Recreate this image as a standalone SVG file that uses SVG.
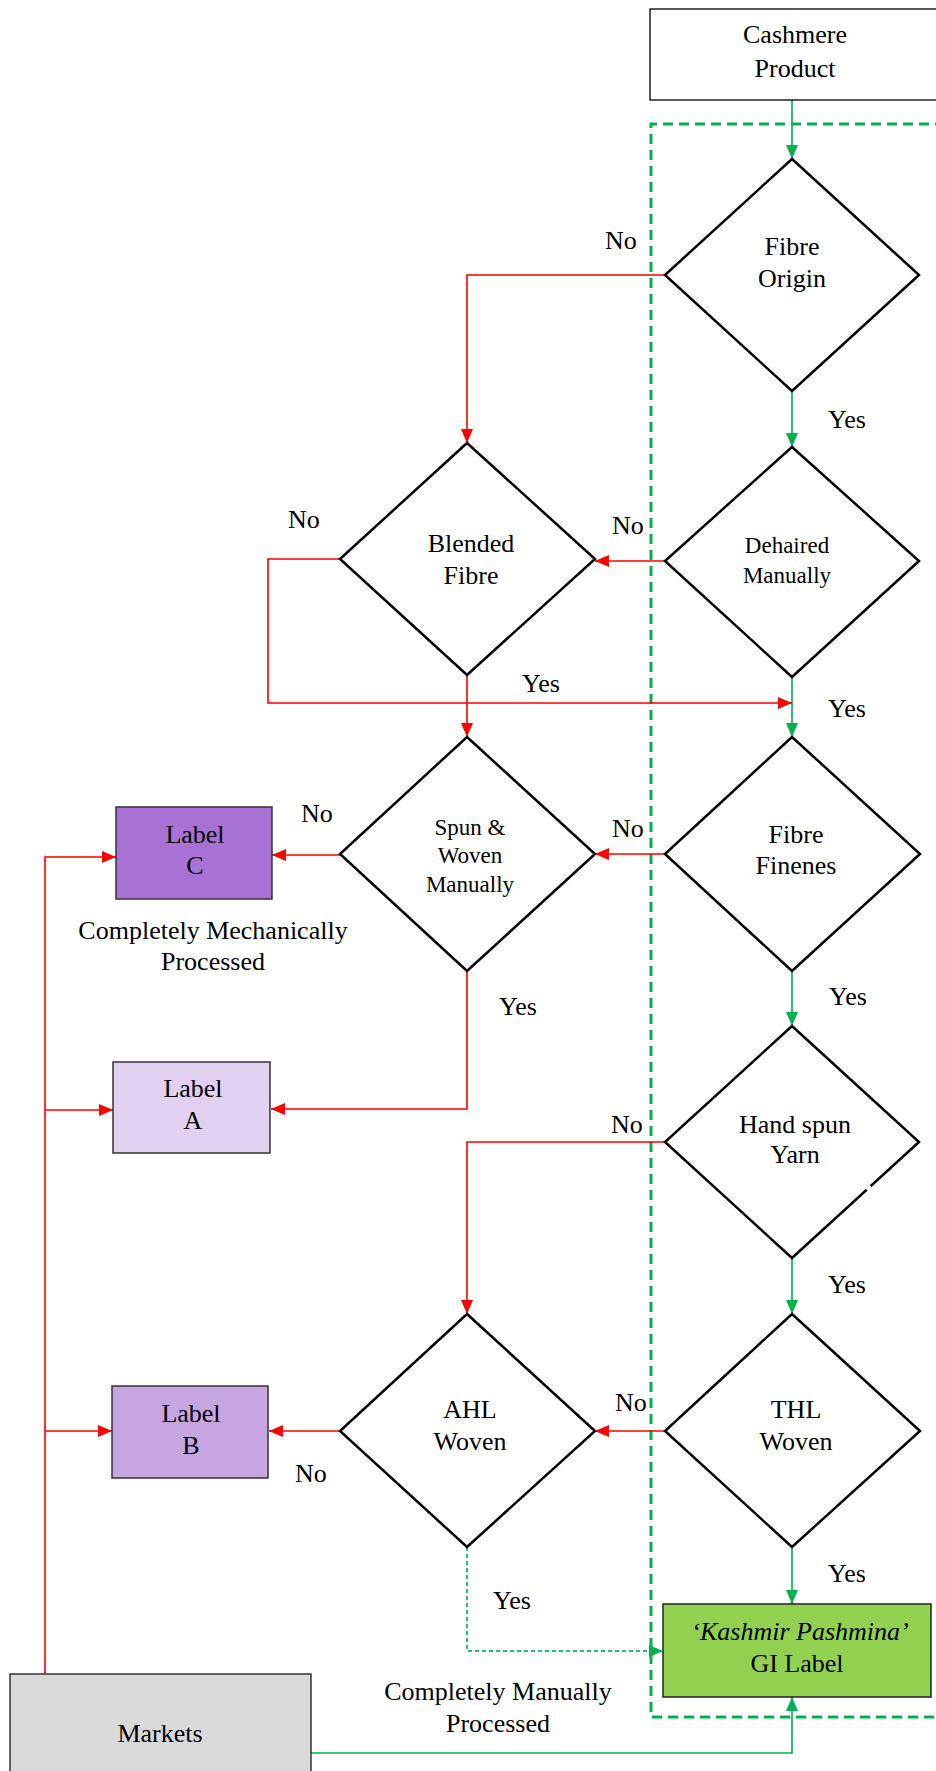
<svg xmlns="http://www.w3.org/2000/svg" width="936" height="1771" viewBox="0 0 936 1771">
  <style>
    text { font-family: "Liberation Serif", "Times New Roman", serif; font-size: 26px; fill: #000; }
    .c { text-anchor: middle; }
    .sm { font-size: 23px; }
    .it { font-style: italic; }
    .dia { fill: #fff; stroke: #000; stroke-width: 2.5; }
    .box { stroke: #333; stroke-width: 1.5; }
    .red { fill: none; stroke: #FF0000; stroke-width: 1.6; }
    .grn { fill: none; stroke: #00B050; stroke-width: 1.6; }
    .grnd { fill: none; stroke: #2DBE6C; stroke-width: 2; stroke-dasharray: 4 3; }
    .zone { fill: none; stroke: #00B050; stroke-width: 3; stroke-dasharray: 10 6; }
  </style>
  <defs>
    <marker id="ar" markerUnits="userSpaceOnUse" markerWidth="14" markerHeight="12" refX="14" refY="6" orient="auto">
      <path d="M0,0 L14,6 L0,12 z" fill="#FF0000"/>
    </marker>
    <marker id="ag" markerUnits="userSpaceOnUse" markerWidth="14" markerHeight="12" refX="14" refY="6" orient="auto">
      <path d="M0,0 L14,6 L0,12 z" fill="#00B050"/>
    </marker>
  </defs>

  <rect width="936" height="1771" fill="#fff"/>

  <!-- dashed boundary of the fully manual route -->
  <path class="zone" d="M945,124 H651 V1717 H945"/>

  <!-- connectors -->
  <g id="connectors">
    <!-- main (Yes) path -->
    <path class="grn" d="M792,100 V159" marker-end="url(#ag)"/>
    <path class="grn" d="M792,391 V447" marker-end="url(#ag)"/>
    <path class="grn" d="M792,677 V737" marker-end="url(#ag)"/>
    <path class="grn" d="M792,971 V1026" marker-end="url(#ag)"/>
    <path class="grn" d="M792,1258 V1314" marker-end="url(#ag)"/>
    <path class="grn" d="M792,1547 V1604" marker-end="url(#ag)"/>
    <path class="grn" d="M311,1753 H792 V1697" marker-end="url(#ag)"/>
    <path class="grnd" d="M467,1547 V1651 H663" marker-end="url(#ag)"/>
    <!-- No branches -->
    <path class="red" d="M665,275 H467 V443" marker-end="url(#ar)"/>
    <path class="red" d="M665,561 H595" marker-end="url(#ar)"/>
    <path class="red" d="M340,559 H268 V703 H792" marker-end="url(#ar)"/>
    <path class="red" d="M467,675 V737" marker-end="url(#ar)"/>
    <path class="red" d="M665,854 H595" marker-end="url(#ar)"/>
    <path class="red" d="M340,855 H272" marker-end="url(#ar)"/>
    <path class="red" d="M467,971 V1109 H271" marker-end="url(#ar)"/>
    <path class="red" d="M665,1142 H467 V1314" marker-end="url(#ar)"/>
    <path class="red" d="M665,1431 H595" marker-end="url(#ar)"/>
    <path class="red" d="M340,1431 H269" marker-end="url(#ar)"/>
    <!-- market feeders -->
    <path class="red" d="M45,1674 V857 H116" marker-end="url(#ar)"/>
    <path class="red" d="M45,1110 H113" marker-end="url(#ar)"/>
    <path class="red" d="M45,1431 H112" marker-end="url(#ar)"/>

    <!-- branch labels -->
    <text x="605" y="249">No</text>
    <text x="288" y="528">No</text>
    <text x="612" y="534">No</text>
    <text x="301" y="822">No</text>
    <text x="612" y="837">No</text>
    <text x="611" y="1133">No</text>
    <text x="615" y="1411">No</text>
    <text x="295" y="1482">No</text>
    <text x="828" y="428">Yes</text>
    <text x="522" y="692">Yes</text>
    <text x="828" y="717">Yes</text>
    <text x="829" y="1005">Yes</text>
    <text x="499" y="1015">Yes</text>
    <text x="828" y="1293">Yes</text>
    <text x="828" y="1582">Yes</text>
    <text x="493" y="1609">Yes</text>
  </g>

  <g id="cashmere-product">
    <rect x="650" y="9" width="300" height="91" fill="#fff" stroke="#000" stroke-width="1.3"/>
    <text class="c" x="795" y="43">Cashmere</text>
    <text class="c" x="795" y="77">Product</text>
  </g>

  <g id="fibre-origin">
    <polygon class="dia" points="792,159 919,275 792,391 665,275"/>
    <text class="c" x="792" y="255">Fibre</text>
    <text class="c" x="792" y="287">Origin</text>
  </g>

  <g id="dehaired-manually">
    <polygon class="dia" points="792,447 919,561 792,677 665,561"/>
    <text class="c sm" x="787" y="553">Dehaired</text>
    <text class="c sm" x="787" y="583">Manually</text>
  </g>

  <g id="blended-fibre">
    <polygon class="dia" points="467,443 595,559 467,675 340,559"/>
    <text class="c" x="471" y="552">Blended</text>
    <text class="c" x="471" y="584">Fibre</text>
  </g>

  <g id="fibre-fineness">
    <polygon class="dia" points="792,737 920,854 792,971 665,854"/>
    <text class="c" x="796" y="843">Fibre</text>
    <text class="c" x="796" y="874">Finenes</text>
  </g>

  <g id="spun-woven-manually">
    <polygon class="dia" points="467,737 595,854 467,971 340,854"/>
    <text class="c sm" x="470" y="835">Spun &amp;</text>
    <text class="c sm" x="470" y="863">Woven</text>
    <text class="c sm" x="470" y="892">Manually</text>
  </g>

  <g id="hand-spun-yarn">
    <polygon class="dia" points="792,1026 919,1142 792,1258 665,1142"/>
    <path d="M871,1186.5 L867,1190" stroke="#fff" stroke-width="4"/>
    <text class="c" x="795" y="1133">Hand spun</text>
    <text class="c" x="795" y="1163">Yarn</text>
  </g>

  <g id="thl-woven">
    <polygon class="dia" points="792,1314 920,1431 792,1547 665,1431"/>
    <text class="c" x="796" y="1418">THL</text>
    <text class="c" x="796" y="1450">Woven</text>
  </g>

  <g id="ahl-woven">
    <polygon class="dia" points="467,1314 595,1431 467,1547 340,1431"/>
    <text class="c" x="470" y="1418">AHL</text>
    <text class="c" x="470" y="1450">Woven</text>
  </g>

  <g id="label-c">
    <rect class="box" x="116" y="807" width="156" height="92" fill="#A872D4"/>
    <text class="c" x="195" y="843">Label</text>
    <text class="c" x="195" y="874">C</text>
  </g>

  <g id="label-a">
    <rect class="box" x="113" y="1062" width="157" height="91" fill="#E2D0F0"/>
    <text class="c" x="193" y="1097">Label</text>
    <text class="c" x="193" y="1129">A</text>
  </g>

  <g id="label-b">
    <rect class="box" x="112" y="1386" width="156" height="92" fill="#C7A5E0"/>
    <text class="c" x="191" y="1422">Label</text>
    <text class="c" x="191" y="1454">B</text>
  </g>

  <g id="gi-label">
    <rect x="663" y="1604" width="268" height="93" fill="#92D050" stroke="#222" stroke-width="1.5"/>
    <text class="c it" x="800" y="1640">‘Kashmir Pashmina’</text>
    <text class="c" x="797" y="1672">GI Label</text>
  </g>

  <g id="markets">
    <rect class="box" x="10" y="1674" width="301" height="110" fill="#D9D9D9"/>
    <text class="c" x="160" y="1742">Markets</text>
  </g>

  <g id="captions">
    <text class="c" x="213" y="939">Completely Mechanically</text>
    <text class="c" x="213" y="970">Processed</text>
    <text class="c" x="498" y="1700">Completely Manually</text>
    <text class="c" x="498" y="1732">Processed</text>
  </g>
</svg>
